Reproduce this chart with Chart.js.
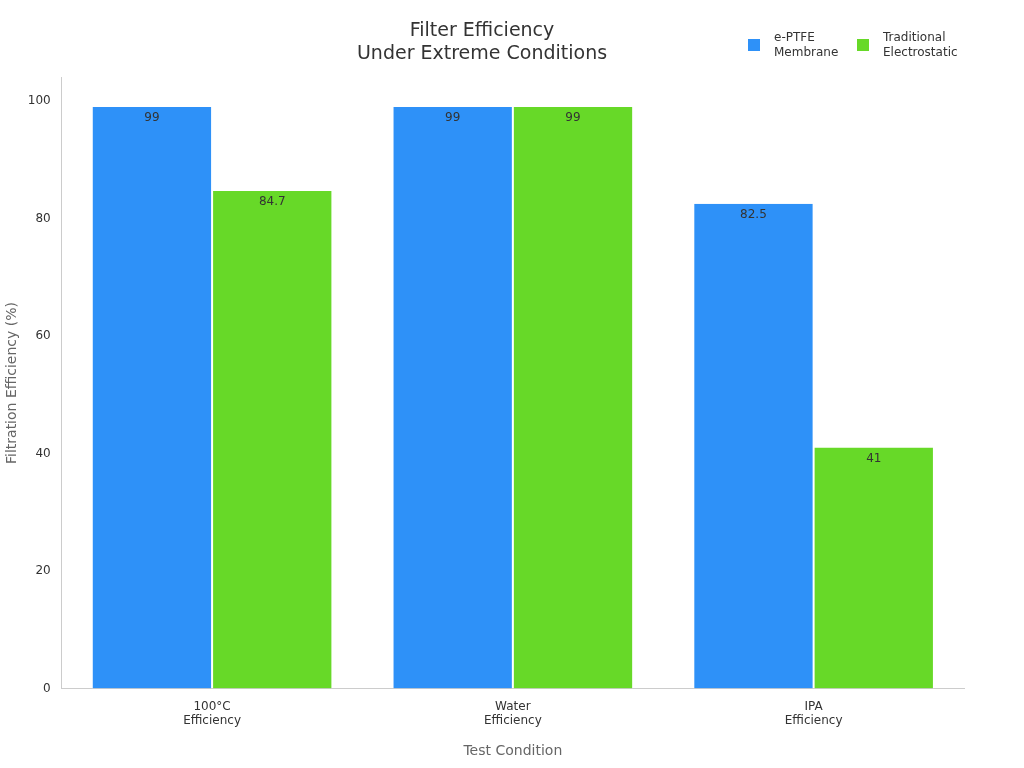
<!DOCTYPE html>
<html><head><meta charset="utf-8">
<script src="https://cdn.jsdelivr.net/npm/chart.js@4"></script>
<style>html,body{margin:0;padding:0;background:#fff}#w{width:1024px;height:768px}</style>
</head><body><div id="w"><canvas id="c"></canvas></div>
<script>
const categories = [["100°C","Efficiency"],["Water","Efficiency"],["IPA","Efficiency"]];
const seriesNames = [["e-PTFE","Membrane"],["Traditional","Electrostatic"]];
const ptfeValues = [99, 99, 82.5];
const electroValues = [84.7, 99, 41];
const colors = ["#2E91F8", "#67D928"];
const FONT = "'DejaVu Sans', sans-serif";

const labelPlugin = {
  id: 'lbl',
  afterDatasetsDraw(chart) {
    const ctx = chart.ctx;
    ctx.save();
    ctx.font = "12px " + FONT;
    ctx.fillStyle = "#333";
    ctx.textAlign = "center";
    ctx.textBaseline = "top";
    chart.data.datasets.forEach((ds, i) => {
      chart.getDatasetMeta(i).data.forEach((bar, j) => {
        ctx.fillText(String(ds.data[j]), bar.x, bar.y + 5);
      });
    });
    // legend
    const items = [{x: 748, c: colors[0], t: seriesNames[0]}, {x: 857, c: colors[1], t: seriesNames[1]}];
    ctx.textAlign = "left";
    ctx.textBaseline = "middle";
    items.forEach(it => {
      ctx.fillStyle = it.c;
      ctx.fillRect(it.x, 39, 12, 12);
      ctx.fillStyle = "#333";
      ctx.fillText(it.t[0], it.x + 26, 38);
      ctx.fillText(it.t[1], it.x + 26, 53);
    });
    ctx.restore();
  }
};

new Chart(document.getElementById('c'), {
  type: 'bar',
  data: {
    labels: categories,
    datasets: [
      {label: seriesNames[0].join(' '), data: ptfeValues, backgroundColor: colors[0], borderColor: '#fff', borderWidth: {left:1,right:1,top:0,bottom:0}},
      {label: seriesNames[1].join(' '), data: electroValues, backgroundColor: colors[1], borderColor: '#fff', borderWidth: {left:1,right:1,top:0,bottom:0}}
    ]
  },
  options: {
    responsive: true, maintainAspectRatio: false, animation: false,
    layout: {padding: {left: 0, right: 60, top: 10, bottom: 4}},
    datasets: {bar: {categoryPercentage: 0.8, barPercentage: 1}},
    plugins: {
      legend: {display: false},
      tooltip: {enabled: false},
      title: {display: true, text: ["Filter Efficiency", "Under Extreme Conditions"], color: "#333",
        font: {family: FONT, size: 19, weight: 'normal'}, padding: {top: 10, bottom: 12}, lineHeight: 1.3}
    },
    scales: {
      x: {
        grid: {display: false, drawTicks: true},
        border: {color: '#ccc'},
        ticks: {color: '#333', font: {family: FONT, size: 12}},
        title: {display: true, text: 'Test Condition', color: '#666', font: {family: FONT, size: 14}, padding: {top: 12}}
      },
      y: {
        min: 0, max: 104,
        grid: {display: false},
        border: {color: '#ccc'},
        ticks: {stepSize: 20, color: '#333', font: {family: FONT, size: 12},
          callback: v => v % 20 === 0 ? v : null},
        title: {display: true, text: 'Filtration Efficiency (%)', color: '#666', font: {family: FONT, size: 14}}
      }
    }
  },
  plugins: [labelPlugin]
});
</script></body></html>
